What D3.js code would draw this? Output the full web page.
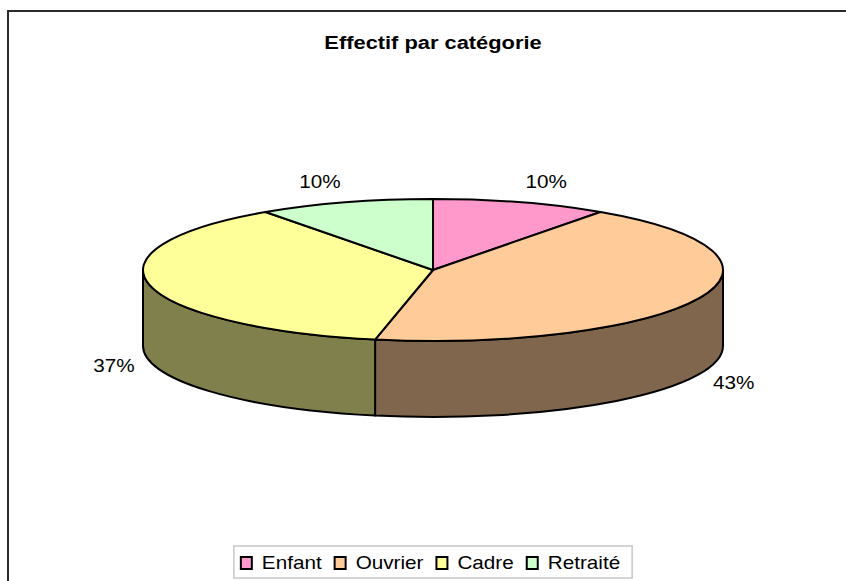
<!DOCTYPE html>
<html>
<head>
<meta charset="utf-8">
<script src="https://cdn.jsdelivr.net/npm/d3@7"></script>
<style>
  html, body { margin: 0; padding: 0; background: #fff; }
  svg { display: block; }
  text { font-family: "Liberation Sans", Arial, sans-serif; fill: #000; }
</style>
</head>
<body>
<svg id="chart" width="846" height="581"></svg>
<script>
// ---- data ----
const title = "Effectif par catégorie";
const categories = ["Enfant", "Ouvrier", "Cadre", "Retraité"];
const values = [9.8, 43.4, 37.0, 9.8];
const topColors = ["#FF99CC", "#FFCC99", "#FFFF99", "#CCFFCC"];

// ---- layout ----
const W = 846, H = 581;
const cx = 433, cy = 270, rx = 290, ry = 71, depth = 76;
const SX = 1.15; // horizontal text stretch
const svg = d3.select("#chart");

const total = d3.sum(values);
const labels = values.map(v => Math.round(v / total * 100) + "%");

const color = d3.scaleOrdinal().domain(categories).range(topColors);
const sideColor = c => { const k = d3.rgb(c); return d3.rgb(k.r / 2, k.g / 2, k.b / 2).formatHex(); };

// chart area border
svg.append("rect").attr("x", 8).attr("y", 11).attr("width", 900).attr("height", 700)
  .attr("fill", "#fff").attr("stroke", "#2b2b2b").attr("stroke-width", 2);

function stretchedText(parent, x, y, str) {
  const g = parent.append("g").attr("transform", `translate(${x},${y}) scale(${SX},1)`);
  return g.append("text").text(str);
}

// title
stretchedText(svg, cx, 49, title)
  .attr("text-anchor", "middle").attr("font-size", 19).attr("font-weight", "bold");

const pie = d3.pie().sort(null).value(d => d.value);
const arcs = pie(categories.map((c, i) => ({ cat: c, value: values[i], label: labels[i] })));

const P = (a, dy = 0) => [cx + rx * Math.sin(a), cy - ry * Math.cos(a) + dy];

// sides (front half only)
const gSide = svg.append("g");
arcs.forEach(d => {
  const s = Math.max(d.startAngle, Math.PI / 2);
  const e = Math.min(d.endAngle, 3 * Math.PI / 2);
  if (s >= e) return;
  const [x0, y0] = P(s), [x1, y1] = P(e);
  const path = `M${x0},${y0} A${rx},${ry} 0 0 1 ${x1},${y1} L${x1},${y1 + depth} A${rx},${ry} 0 0 0 ${x0},${y0 + depth} Z`;
  gSide.append("path").attr("d", path)
    .attr("fill", sideColor(color(d.data.cat)))
    .attr("stroke", "#000").attr("stroke-width", 2).attr("stroke-linejoin", "round");
});

// tops
const gTop = svg.append("g");
arcs.forEach(d => {
  const [x0, y0] = P(d.startAngle), [x1, y1] = P(d.endAngle);
  const large = (d.endAngle - d.startAngle) > Math.PI ? 1 : 0;
  gTop.append("path")
    .attr("d", `M${cx},${cy} L${x0},${y0} A${rx},${ry} 0 ${large} 1 ${x1},${y1} Z`)
    .attr("fill", color(d.data.cat))
    .attr("stroke", "#000").attr("stroke-width", 2).attr("stroke-linejoin", "round");
});

// data labels
const gLab = svg.append("g");
arcs.forEach(d => {
  const m = (d.startAngle + d.endAngle) / 2;
  const s = Math.sin(m), c = Math.cos(m);
  const x = cx + (rx + 15) * s;
  const y = cy - (ry + 22) * c + (c < 0 ? depth : 0);
  stretchedText(gLab, x, y, d.data.label)
    .attr("font-size", 18)
    .attr("text-anchor", s >= 0 ? "start" : "end")
    .attr("dominant-baseline", "central");
});

// legend
const gLeg = svg.append("g");
const legY = 569;           // text baseline
let xpos = 0;
categories.forEach((c, i) => {
  const it = gLeg.append("g");
  it.append("rect").attr("x", xpos).attr("y", legY - 12).attr("width", 11).attr("height", 12)
    .attr("fill", color(c)).attr("stroke", "#000").attr("stroke-width", 2);
  const t = stretchedText(it, xpos + 21, legY, c).attr("font-size", 18);
  const w = t.node().getComputedTextLength() * SX;
  xpos = xpos + 21 + w + 13;
});
const legW = xpos - 13 + 7 + 12;
const legLeft = cx - legW / 2;
gLeg.attr("transform", `translate(${legLeft + 7},0)`);
gLeg.insert("rect", ":first-child")
  .attr("x", -7).attr("y", 546).attr("width", legW).attr("height", 32)
  .attr("fill", "#fff").attr("stroke", "#c8c8c8").attr("stroke-width", 1.5);
</script>
</body>
</html>
